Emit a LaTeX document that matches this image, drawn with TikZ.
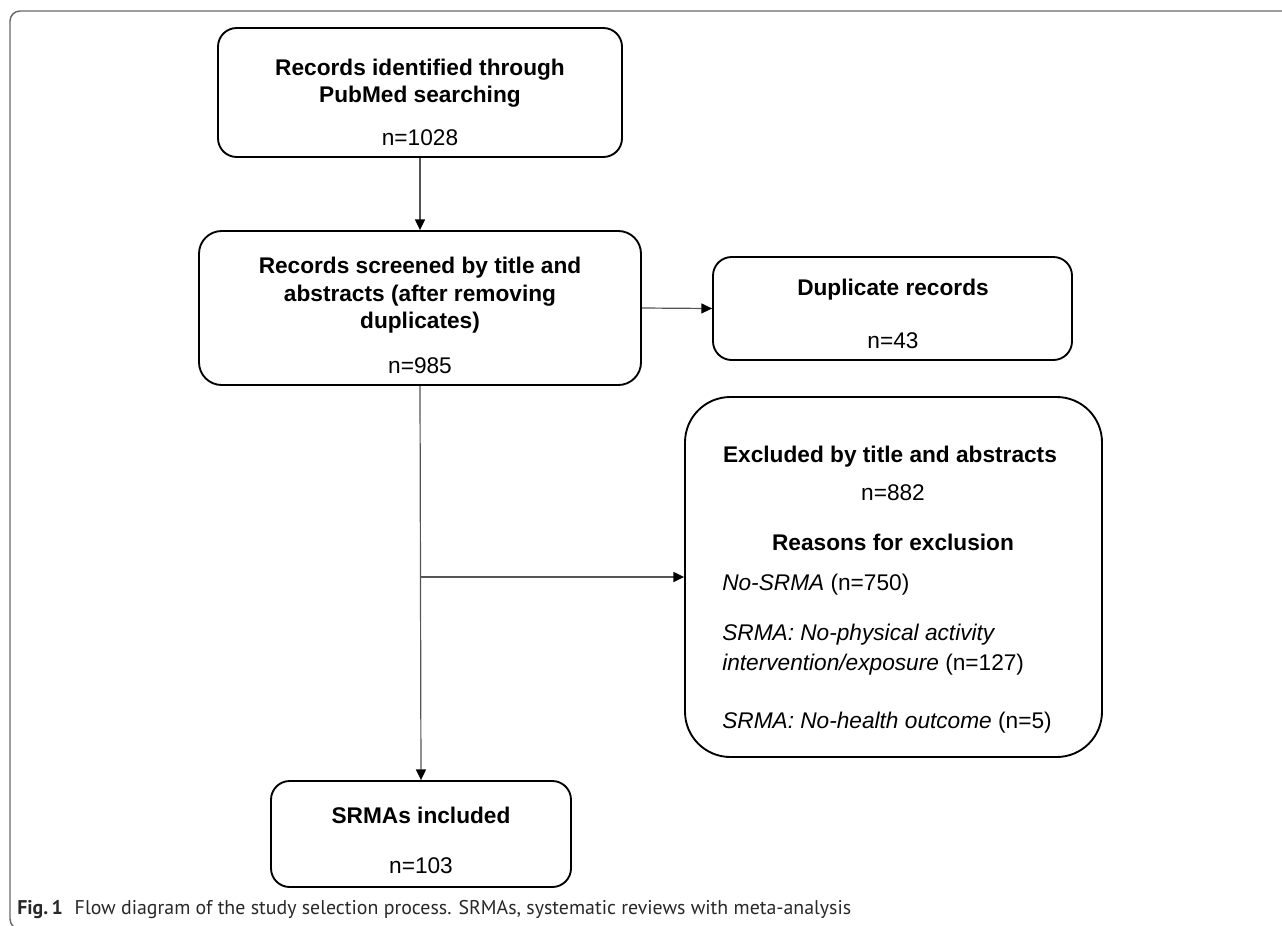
\documentclass[tikz,border=0pt]{standalone}
\usepackage{fontspec}
\setmainfont{Liberation Sans}
\newfontfamily\capfont{PT Sans}
\usetikzlibrary{arrows.meta}
\definecolor{connc}{RGB}{85,85,85}
\definecolor{framec}{RGB}{105,105,105}
\definecolor{capc}{RGB}{40,40,40}
\begin{document}
\begin{tikzpicture}[x=0.75pt,y=-0.75pt,
  box/.style={draw=black,line width=1.4pt,inner sep=0pt,rounded corners=14pt},
  txt/.style={inner sep=0pt,anchor=base,font=\fontsize{17pt}{20pt}\selectfont},
  btxt/.style={txt,font=\fontsize{17pt}{20pt}\selectfont\bfseries},
  ltxt/.style={txt,anchor=base west},
  conn/.style={draw=connc,line width=0.9pt},
  arr/.style={conn,-{Triangle[length=8pt,width=7.5pt,color=black]}},
  frame/.style={draw=framec,line width=1.1pt,rounded corners=7.5pt}
]
\useasboundingbox (0,0) rectangle (1282,925);
\draw[frame] (1300,11) -- (10,11) -- (10,929) -- (1300,929);

% boxes
\node[box,minimum width=303pt,minimum height=96.75pt] (b1) at (420,92.5) {};
\node[box,minimum width=331.5pt,minimum height=115.5pt,rounded corners=17pt] (b2) at (420,308) {};
\node[box,minimum width=269.25pt,minimum height=77.25pt] (dup) at (892.5,308.5) {};
\node[box,minimum width=312.75pt,minimum height=270pt,rounded corners=34pt] (exc) at (893.5,577) {};
\node[box,minimum width=225pt,minimum height=79.5pt] (fin) at (421,834) {};

% texts
\node[btxt] (t1a) at (420,75) {Records identified through};
\node[btxt] (t1b) at (420,102) {PubMed searching};
\node[txt] (t1c) at (420,145) {n=1028};

\node[btxt] (t2a) at (420,273) {Records screened by title and};
\node[btxt] (t2b) at (420,301) {abstracts (after removing};
\node[btxt] (t2c) at (420,328) {duplicates)};
\node[txt] (t2d) at (420,373) {n=985};

\node[btxt] (tda) at (893,295) {Duplicate records};
\node[txt] (tdb) at (893,348) {n=43};

\node[btxt] (tea) at (890,462) {Excluded by title and abstracts};
\node[txt] (teb) at (893,500) {n=882};
\node[btxt] (tec) at (893,550) {Reasons for exclusion};
\node[ltxt] (ted) at (722,590) {\textit{No-SRMA} (n=750)};
\node[ltxt] (tee) at (722,640) {\textit{SRMA: No-physical activity}};
\node[ltxt] (tef) at (722,670) {\textit{intervention/exposure} (n=127)};
\node[ltxt] (teg) at (722,728) {\textit{SRMA: No-health outcome} (n=5)};

\node[btxt] (tfa) at (421,823) {SRMAs included};
\node[txt] (tfb) at (421,873) {n=103};

% caption
\node[inner sep=0pt,anchor=base west,text=capc,font=\capfont\fontsize{14.9pt}{17pt}\selectfont] (cap) at (17,914)
  {\textbf{Fig.\,1}\hspace{0.6em}Flow diagram of the study selection process. SRMAs, systematic reviews with meta-analysis};

% connectors
\draw[arr] (b1.south) -- (b2.north);
\draw[arr] (b2.east) -- (dup.west);
\draw[arr] (b2.south) -- (fin.north);
\coordinate (j) at (b2.south |- exc.west);
\draw[arr] (j) -- (exc.west);
\end{tikzpicture}
\end{document}
